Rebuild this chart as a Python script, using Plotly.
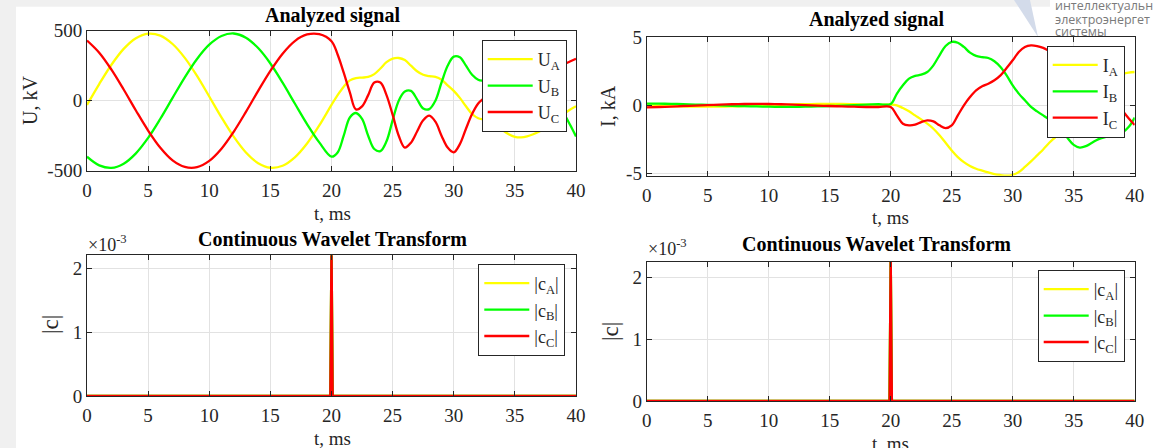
import plotly.graph_objects as go

# ---------------- data ----------------
t_pre = [0, 1, 2, 3, 4, 5, 6, 7, 8, 9, 10, 11, 12, 13, 14, 15, 16, 17, 18, 19]
t_post = [20, 20.5, 21, 21.5, 22, 22.5, 23, 23.5, 24, 24.5, 25, 25.5, 26, 26.5, 27, 27.5,
          28, 28.5, 29, 29.5, 30, 30.5, 31, 31.5, 32, 32.5, 33, 33.5, 34, 34.5, 35, 35.5,
          36, 36.5, 37, 37.5, 38, 38.5, 39, 39.5, 40]

UA_pre = [-30, 119, 257, 370, 446, 479, 465, 405, 306, 177, 30, -119, -257, -370, -446, -479, -465, -405, -306, -177]
UB_pre = [-400, -462, -480, -450, -376, -266, -129, 20, 167, 298, 400, 462, 480, 450, 376, 266, 129, -20, -167, -298]
UC_pre = [430, 343, 222, 80, -70, -213, -336, -426, -473, -475, -430, -343, -222, -80, 70, 213, 336, 426, 473, 475]

UA_post = [-30, 40, 100, 145, 162, 165, 170, 190, 230, 275, 300, 305, 290, 250, 210, 185,
           175, 170, 150, 110, 70, 20, -40, -95, -125, -135, -150, -175, -210, -240, -258, -262,
           -255, -240, -220, -195, -165, -130, -95, -65, -40]
UB_post = [-400, -370, -250, -120, -88, -130, -250, -345, -360, -290, -140, 0, 65, 70, 10, -55,
           -60, 0, 130, 250, 315, 310, 250, 185, 150, 140, 130, 110, 90, 65, 40, 20,
           0, -15, -30, -40, -50, -65, -95, -170, -255]
UC_post = [425, 330, 200, 60, -62, -40, 40, 130, 130, 40, -100, -250, -335, -300, -220, -140,
           -107, -150, -250, -335, -369, -310, -200, -95, -20, 20, 60, 100, 140, 170, 195, 215,
           225, 230, 232, 235, 238, 245, 260, 280, 300]

IA_pre = [0.0, -0.03, -0.06, -0.08, -0.1, -0.1, -0.1, -0.08, -0.05, -0.02, 0.01, 0.04, 0.07, 0.09, 0.1, 0.1, 0.1, 0.08, 0.06, 0.04]
IB_pre = [0.12, 0.12, 0.11, 0.09, 0.06, 0.03, 0.0, -0.03, -0.06, -0.08, -0.1, -0.11, -0.11, -0.1, -0.08, -0.05, -0.02, 0.02, 0.05, 0.08]
IC_pre = [-0.15, -0.12, -0.09, -0.05, -0.02, 0.02, 0.05, 0.08, 0.1, 0.11, 0.1, 0.08, 0.05, 0.02, -0.02, -0.05, -0.08, -0.1, -0.12, -0.12]

IA_post = [0.05, 0.0, -0.2, -0.44, -0.74, -1.03, -1.35, -1.72, -2.2, -2.75, -3.31, -3.8, -4.17, -4.46, -4.66, -4.8,
           -4.93, -5.05, -5.12, -5.17, -5.1, -4.9, -4.53, -4.12, -3.68, -3.24, -2.75, -2.33, -1.9, -1.4, -0.9, -0.4,
           0.2, 0.7, 1.2, 1.6, 1.9, 2.15, 2.3, 2.4, 2.45]
IB_post = [0.1, 0.85, 1.47, 1.96, 2.16, 2.25, 2.45, 2.94, 3.68, 4.36, 4.66, 4.6, 4.29, 3.87, 3.63, 3.55,
           3.48, 3.24, 2.82, 2.21, 1.47, 0.86, 0.37, -0.12, -0.44, -0.74, -1.03, -1.3, -1.8, -2.4, -2.9, -3.1,
           -3.0, -2.75, -2.5, -2.35, -2.25, -2.15, -2.0, -1.6, -0.9]
IC_post = [-0.12, -0.74, -1.35, -1.47, -1.42, -1.23, -1.1, -1.18, -1.47, -1.67, -1.47, -0.74, 0.0, 0.61, 1.1, 1.4,
           1.59, 1.84, 2.2, 2.74, 3.31, 3.92, 4.29, 4.41, 4.36, 4.22, 4.0, 3.8, 3.5, 3.15, 2.8, 2.4,
           2.0, 1.6, 1.2, 0.85, 0.5, 0.1, -0.4, -0.95, -1.45]

t_cwt = [0, 19.9, 20.0, 20.1, 40]
cA_U = [0, 0, 0.0024, 0, 0]
cB_U = [0, 0, 0.0024, 0, 0]
cC_U = [0, 0, 0.0024, 0, 0]
cA_I = [0, 0, 0.0024, 0, 0]
cB_I = [0, 0, 0.0024, 0, 0]
cC_I = [0, 0, 0.0024, 0, 0]

x_ticks = [0, 5, 10, 15, 20, 25, 30, 35, 40]
u_ticks = [-500, 0, 500]
u_tick_text = ["-500", "0", "500"]
i_ticks = [-5, 0, 5]
i_tick_text = ["-5", "0", "5"]
c_ticks = [0, 0.001, 0.002]
c_tick_text = ["0", "1", "2"]

t_all = t_pre + t_post
colors = {"A": "#ffff00", "B": "#00ff00", "C": "#ff0000"}

W, H = 1163, 448
SERIF = "Liberation Serif"
DARK = "#262626"


def px(x):
    return x / W


def py(y):
    return 1 - y / H


fig = go.Figure()

for ph, pre, post in [("A", UA_pre, UA_post), ("B", UB_pre, UB_post), ("C", UC_pre, UC_post)]:
    fig.add_trace(go.Scatter(x=t_all, y=pre + post, mode="lines", name=f"U<sub>{ph}</sub>",
                             line=dict(color=colors[ph], width=2.3, shape="spline", smoothing=1.0),
                             xaxis="x", yaxis="y", legend="legend"))
for ph, pre, post in [("A", IA_pre, IA_post), ("B", IB_pre, IB_post), ("C", IC_pre, IC_post)]:
    fig.add_trace(go.Scatter(x=t_all, y=pre + post, mode="lines", name=f"I<sub>{ph}</sub>",
                             line=dict(color=colors[ph], width=2.3, shape="spline", smoothing=1.0),
                             xaxis="x2", yaxis="y2", legend="legend2"))
for ph, vals in [("A", cA_U), ("B", cB_U), ("C", cC_U)]:
    fig.add_trace(go.Scatter(x=t_cwt, y=vals, mode="lines", name=f"|c<sub>{ph}</sub>|",
                             line=dict(color=colors[ph], width=2.3),
                             xaxis="x3", yaxis="y3", legend="legend3"))
for ph, vals in [("A", cA_I), ("B", cB_I), ("C", cC_I)]:
    fig.add_trace(go.Scatter(x=t_cwt, y=vals, mode="lines", name=f"|c<sub>{ph}</sub>|",
                             line=dict(color=colors[ph], width=2.3),
                             xaxis="x4", yaxis="y4", legend="legend4"))

axis_common = dict(showline=True, linecolor=DARK, linewidth=1, mirror="ticks", ticks="inside",
                   ticklen=5, tickcolor=DARK, showgrid=True, gridcolor="#e2e2e2", gridwidth=1,
                   zeroline=False, automargin=False,
                   tickfont=dict(family=SERIF, size=19, color=DARK))

boxes = {
    1: (87, 576, 30.7, 170.7),
    2: (646.7, 1134.7, 37.3, 175.7),
    3: (87, 576, 255.2, 396),
    4: (646.7, 1134.7, 261.5, 401),
}
yranges = {1: [-500, 500], 2: [-5.17, 5.0], 3: [0, 0.0022], 4: [0, 0.00225]}
yticks = {1: (u_ticks, u_tick_text), 2: (i_ticks, i_tick_text),
          3: (c_ticks, c_tick_text), 4: (c_ticks, c_tick_text)}

layout = dict(width=W, height=H, margin=dict(l=0, r=0, t=0, b=0, autoexpand=False),
              paper_bgcolor="white", plot_bgcolor="white", showlegend=True, template="none")
for i, (l, r, t, b) in boxes.items():
    sx = "" if i == 1 else str(i)
    xa = dict(axis_common, domain=[px(l), px(r)], range=[0, 40], tickvals=x_ticks,
              anchor="y" + sx, ticklabelstandoff=2)
    ya = dict(axis_common, domain=[py(b), py(t)], range=yranges[i], anchor="x" + sx,
              tickvals=yticks[i][0], ticktext=yticks[i][1])
    layout["xaxis" + sx] = xa
    layout["yaxis" + sx] = ya

leg_common = dict(xanchor="left", yanchor="top", bgcolor="white", bordercolor=DARK, borderwidth=1,
                  font=dict(family=SERIF, size=18, color=DARK), itemwidth=45, tracegroupgap=0,
                  itemclick=False, itemdoubleclick=False)
layout["legend"] = dict(leg_common, x=px(481.7), y=py(40))
layout["legend2"] = dict(leg_common, x=px(1046.7), y=py(45.7))
layout["legend3"] = dict(leg_common, x=px(478.3), y=py(264))
layout["legend4"] = dict(leg_common, x=px(1037.7), y=py(270))

fig.update_layout(**layout)

ann = []
for (cx, cy, txt) in [(332, 15, "Analyzed signal"), (876, 20, "Analyzed signal"),
                      (332, 239, "Continuous Wavelet Transform"), (876, 244, "Continuous Wavelet Transform")]:
    ann.append(dict(x=px(cx), y=py(cy), xref="paper", yref="paper", text=f"<b>{txt}</b>",
                    showarrow=False, font=dict(family=SERIF, size=20, color="black"),
                    xanchor="center", yanchor="middle"))
for (cx, cy) in [(332, 213), (890, 218), (332, 438), (890, 443)]:
    ann.append(dict(x=px(cx), y=py(cy), xref="paper", yref="paper", text="t, ms", showarrow=False,
                    font=dict(family=SERIF, size=19, color=DARK), xanchor="center", yanchor="middle"))
for (cx, cy, txt, fs) in [(30, 101, "U, kV", 20), (608, 106, "I, kA", 20), (50, 325, "|c|", 23), (610, 331, "|c|", 23)]:
    ann.append(dict(x=px(cx), y=py(cy), xref="paper", yref="paper", text=txt, showarrow=False,
                    textangle=-90, font=dict(family=SERIF, size=fs, color=DARK),
                    xanchor="center", yanchor="middle"))
for (lx, cy) in [(86, 243), (646, 247)]:
    ann.append(dict(x=px(lx), y=py(cy), xref="paper", yref="paper", text="×10<sup>-3</sup>",
                    showarrow=False, font=dict(family=SERIF, size=18, color=DARK),
                    xanchor="left", yanchor="middle"))
for (cy, txt) in [(5, "интеллектуальн"), (19, "электроэнергет"), (31.5, "системы")]:
    ann.append(dict(x=px(1053), y=py(cy), xref="paper", yref="paper", text=txt, showarrow=False,
                    font=dict(family="Open Sans", size=12.5, color="#7a7a7a"),
                    xanchor="left", yanchor="middle"))
fig.update_layout(annotations=ann)

shapes = [
    dict(type="rect", xref="paper", yref="paper", x0=0, x1=px(1050), y0=py(6.7), y1=1,
         fillcolor="#f0f0f0", line=dict(width=0), layer="below"),
    dict(type="rect", xref="paper", yref="paper", x0=0, x1=px(16), y0=0, y1=1,
         fillcolor="#f0f0f0", line=dict(width=0), layer="below"),
    dict(type="path", xref="paper", yref="paper",
         path=f"M {px(1014)} {py(0)} L {px(1030)} {py(0)} L {px(1038)} {py(37)} Z",
         fillcolor="#d3dbea", line=dict(width=0), layer="below"),
]
fig.update_layout(shapes=shapes)

fig.write_html("out.html", config={"displayModeBar": False},
               post_script="document.body.style.margin='0px';")
